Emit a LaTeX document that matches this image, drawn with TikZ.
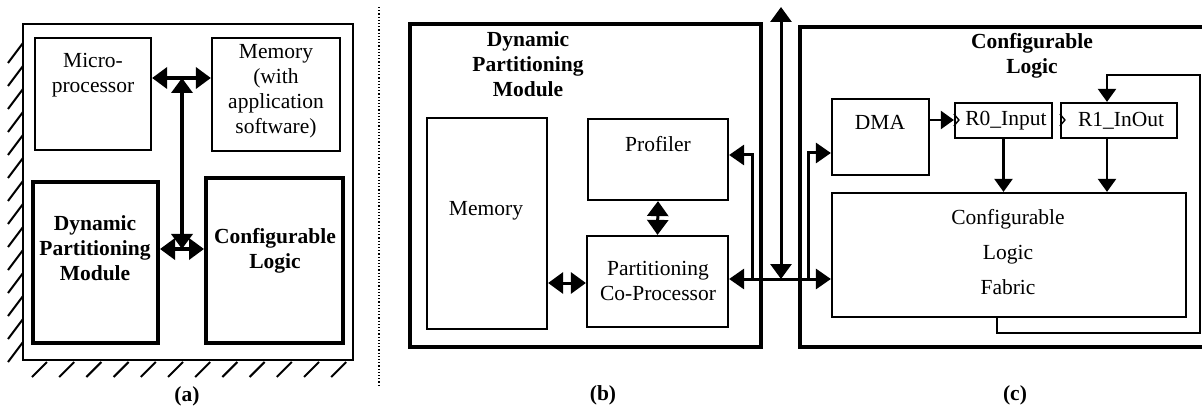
\documentclass[tikz,border=0pt]{standalone}
\usepackage{fontspec}
\setmainfont{Liberation Serif}
\usetikzlibrary{arrows.meta}
\begin{document}
\begin{tikzpicture}[x=1pt,y=-1pt,
  box/.style={draw, line width=2.2pt, inner sep=0pt},
  bbox/.style={draw, line width=4pt, inner sep=0pt},
  txt/.style={align=center, inner sep=0pt, font=\fontsize{21.5}{25}\selectfont},
  btxt/.style={txt, font=\fontsize{21.5}{25}\selectfont\bfseries},
  big/.style={{Triangle[length=15pt,width=21pt]}-{Triangle[length=15pt,width=21pt]}},
  tip/.style={-{Triangle[length=15pt,width=20pt]}},
  stip/.style={-{Triangle[length=13pt,width=18pt]}},
  bus/.style={line width=3.6pt},
  wire/.style={line width=3pt},
  fine/.style={line width=2.2pt},
  hatch/.style={line width=2pt}]
\useasboundingbox (0,0) rectangle (1202,406);

% ---------------- (a) system overview ----------------
\draw[line width=2.4pt] (23,24) rectangle (353,360);
\foreach \k in {0,...,13}
  \draw[hatch] (8,43+\k*23+20) -- (23,43+\k*23);
\foreach \k in {0,...,11}
  \draw[hatch] (32+\k*27.2,377) -- (47+\k*27.2,362);

\node[box, minimum width=116, minimum height=112] (mp) at (93,94) {};
\node[box, minimum width=128, minimum height=113] (mem) at (276,94.5) {};
\node[bbox, minimum width=125, minimum height=161] (dpm) at (95.5,262.5) {};
\node[bbox, minimum width=137, minimum height=165] (cl) at (274.5,260.5) {};

\node[txt] (mpt) at (93,75) {Micro-\\processor};
\node[txt] (memt) at (276,91) {Memory\\(with\\application\\software)};
\node[btxt] (dpmt) at (95,248) {Dynamic\\Partitioning\\Module};
\node[btxt] (clt) at (275,251) {Configurable\\Logic};

\coordinate (abt) at (182,78);
\coordinate (abb) at (182,249);
\draw[bus, big] (mp.east |- abt) -- (mem.west |- abt);
\draw[bus, big] (abt) -- (abb);
\draw[bus, big] (dpm.east |- abb) -- (cl.west |- abb);

\node[font=\fontsize{21.5}{25}\selectfont\bfseries] (la) at (187,396) {(a)};

% separator
\draw[line width=1.2pt, dotted] (379,7) -- (379,387);

% ---------------- (b) dynamic partitioning module ----------------
\node[bbox, minimum width=351, minimum height=323] (dpmb) at (585.5,185.5) {};
\node[btxt] (dpmbt) at (528,64) {Dynamic\\Partitioning\\Module};

\node[box, minimum width=120, minimum height=211] (bmem) at (487,223.5) {};
\node[txt] (bmemt) at (486,211) {Memory};
\node[box, minimum width=140, minimum height=81] (prof) at (658,159.5) {};
\node[txt] (proft) at (658,144) {Profiler};
\node[box, minimum width=141, minimum height=91] (copr) at (657.5,281.5) {};
\node[txt] (coprt) at (658,281) {Partitioning\\Co-Processor};

\draw[wire, big] (prof.south) -- (copr.north);
\coordinate (mc) at (560,283);
\draw[wire, big] (bmem.east |- mc) -- (copr.west |- mc);

\node[font=\fontsize{21.5}{25}\selectfont\bfseries] (lb) at (603,395) {(b)};

% ---------------- (c) configurable logic ----------------
\draw[line width=4pt] (1204,27) -| (800,347) -- (1204,347);
\node[btxt] (clct) at (1032,56) {Configurable\\Logic};

\node[box, minimum width=97, minimum height=76] (dma) at (880.5,137) {};
\node[txt] (dmat) at (880,122) {DMA};
\node[box, minimum width=97, minimum height=35] (r0) at (1003.5,120.5) {};
\node[txt] (r0t) at (1006,121) {R0\_Input};
\node[box, minimum width=116, minimum height=35] (r1) at (1119,120.5) {};
\node[txt] (r1t) at (1121,121) {R1\_InOut};
\node[box, minimum width=354, minimum height=124] (fab) at (1009,255) {};
\node[align=center, inner sep=0pt, font=\fontsize{21.5}{35}\selectfont] (fabt) at (1008,252) {Configurable\\Logic\\Fabric};

% clock inputs of the registers
\draw[line width=1.4pt] (r0.west |- 0,114) -- ++(5,6) -- ++(-5,6);
\draw[line width=1.4pt] (r1.west |- 0,114) -- ++(5,6) -- ++(-5,6);

\coordinate (dr) at (930,120);
\draw[fine, stip] (dma.east |- dr) -- (r0.west |- dr);
\draw[fine, stip] (r0.south) -- (fab.north -| r0.south);
\coordinate (r1x) at (1107,75);
\draw[fine, stip] (r1.south -| r1x) -- (fab.north -| r1x);

% feedback from the fabric to R1_InOut
\coordinate (fb1) at (997,333);
\coordinate (fb2) at (1200,75);
\draw[fine, stip] (fab.south -| fb1) -- (fb1) -| (fb2) -- (r1x) -- (r1.north -| r1x);

% ---------------- shared bus ----------------
\coordinate (btop) at (781,7);
\coordinate (bj) at (781,279);
\coordinate (ptap) at (752,279);
\coordinate (pin) at (752,155);
\coordinate (dtap) at (808,279);
\coordinate (din) at (808,153);
\draw[wire, big] (btop) -- (bj);
\draw[wire, {Triangle[length=15pt,width=20pt]}-{Triangle[length=15pt,width=20pt]}] (copr.east |- bj) -- (fab.west |- bj);
\draw[wire, tip] (ptap) -- (pin) -- (prof.east |- pin);
\draw[wire, tip] (dtap) -- (din) -- (dma.west |- din);

\node[font=\fontsize{21.5}{25}\selectfont\bfseries] (lc) at (1015,395) {(c)};
\end{tikzpicture}
\end{document}
